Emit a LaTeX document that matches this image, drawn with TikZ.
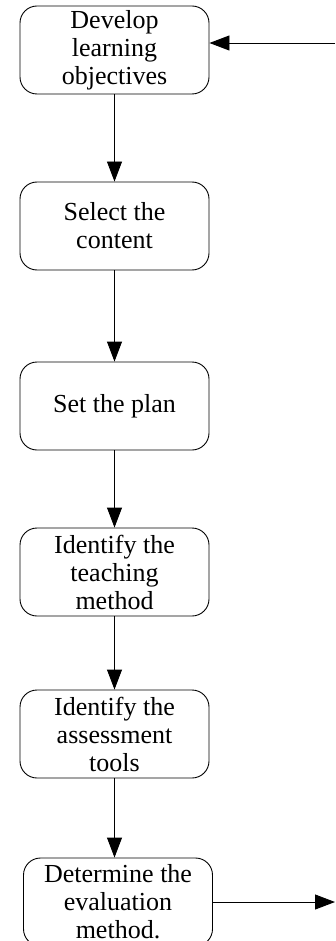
\documentclass[tikz,border=0pt]{standalone}
\usepackage{fontspec}
\setmainfont{Liberation Serif}
\usetikzlibrary{
  arrows.meta,
  calc
}
\tikzset{
  stepbox/.style={
    draw,
    line width=0.9pt,
    rounded corners=17pt,
    minimum width=189pt,
    minimum height=88pt,
    inner sep=0pt,
    align=center,
    font=\fontsize{26}{28}\selectfont},
  flow/.style={
    -{Triangle[length=20pt,width=15pt]},
    line width=0.9pt}
  }

\begin{document}
\begin{tikzpicture}[x=1pt,y=-1pt]
      \useasboundingbox (0,0) rectangle (335,941);
      \node [stepbox] (obj) at (114.5,50) {Develop\\learning\\objectives};
      \node [stepbox] (content) at (114.5,226) {Select the\\content};
      \node [stepbox] (plan) at (114.5,406) {Set the plan};
      \node [stepbox] (teach) at (114.5,572) {Identify the\\teaching\\method};
      \node [stepbox] (assess) at (114.5,734) {Identify the\\assessment\\tools};
      \node [stepbox] (eval) at (118,902) {Determine the\\evaluation\\method.};
      \coordinate (in) at (335,43);
      \coordinate (out) at (335,902);
      \draw [flow] (in) to (in -| obj.east);
      \draw [flow] (obj) to (content);
      \draw [flow] (content) to (plan);
      \draw [flow] (plan) to (teach);
      \draw [flow] (teach) to (assess);
      \draw [flow] (assess.south) to (assess.south |- eval.north);
      \draw [flow] (eval) to (out);
    \end{tikzpicture}
\end{document}
